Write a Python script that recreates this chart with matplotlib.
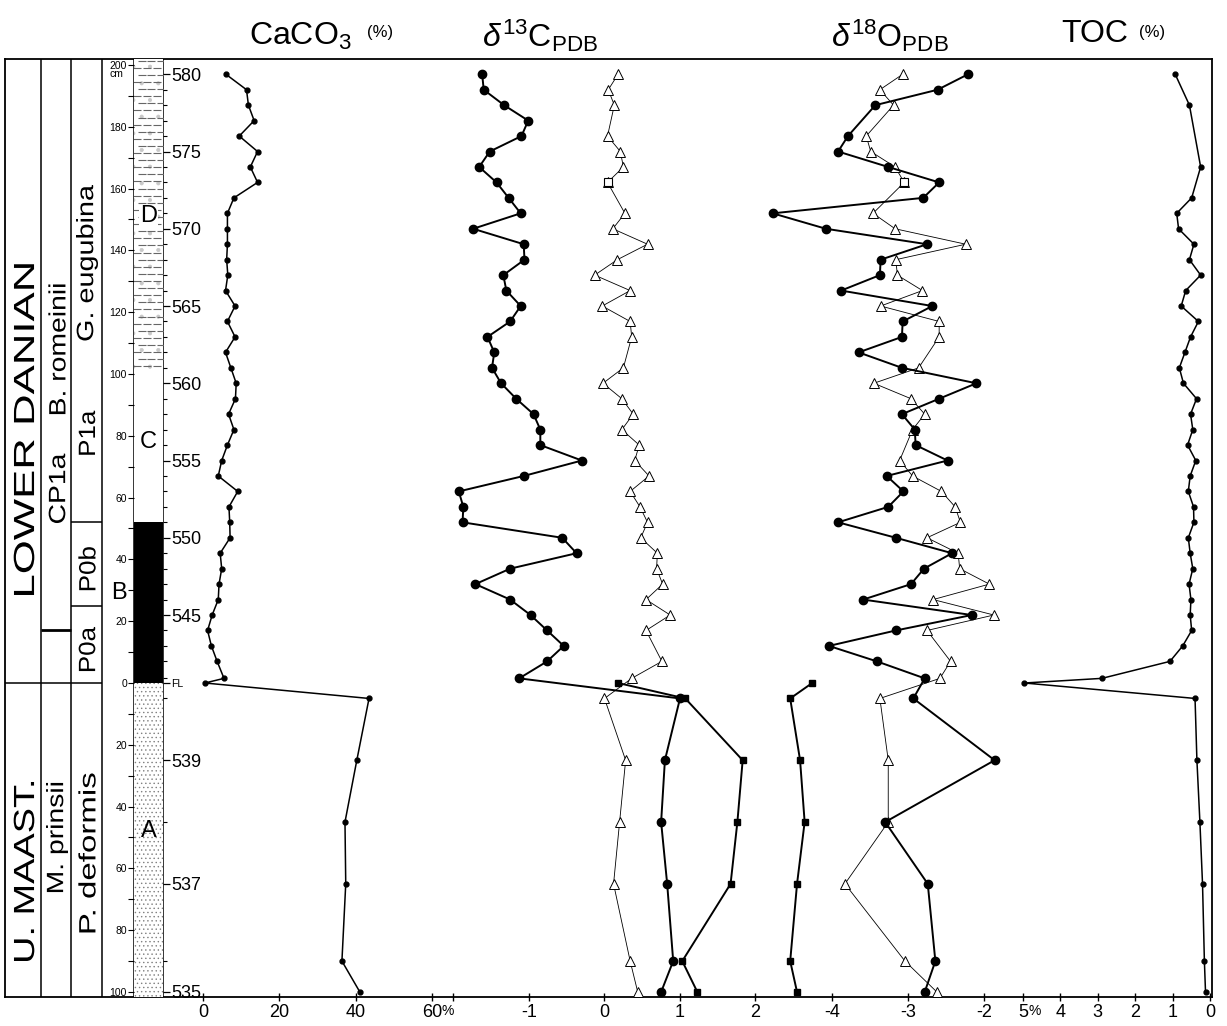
import numpy as np
import matplotlib.pyplot as plt
from matplotlib.patches import Rectangle, PathPatch
from matplotlib.textpath import TextPath
from matplotlib.font_manager import FontProperties
from matplotlib.transforms import Affine2D, blended_transform_factory

plt.rcParams['font.family'] = ['Liberation Sans', 'DejaVu Sans']
plt.rcParams['mathtext.fontset'] = 'custom'
plt.rcParams['mathtext.rm'] = 'Liberation Sans'
plt.rcParams['mathtext.it'] = 'Liberation Sans:italic'
plt.rcParams['axes.unicode_minus'] = False
plt.rcParams['hatch.linewidth'] = 0.5

nan = np.nan

# sample heights above the base of the fish clay (cm), FL = 0
h_up = [197, 192, 187, 182, 177, 172, 167, 162, 157, 152, 147, 142, 137, 132,
        127, 122, 117, 112, 107, 102, 97, 92, 87, 82, 77, 72, 67, 62, 57, 52,
        47, 42, 37, 32, 27, 22, 17, 12, 7, 1.5, 0]
h_low = [-5, -25, -45, -65, -90, -100]
h_sq = [0, -5, -25, -45, -65, -90, -100]

caco3_up = [6.0, 11.4, 11.9, 13.4, 9.5, 14.3, 12.4, 14.3, 8.1, 6.4, 6.4, 6.4,
            6.2, 6.5, 5.9, 8.4, 6.4, 8.4, 5.9, 7.3, 8.7, 8.5, 6.7, 8.1, 6.4,
            4.9, 4.0, 9.1, 6.8, 7.0, 7.1, 4.5, 4.9, 4.2, 4.0, 2.4, 1.2, 2.2,
            3.7, 5.5, 0.5]
caco3_low = [43.5, 40.3, 37.2, 37.4, 36.4, 41.1]

d13c_bulk_up = [-1.62, -1.60, -1.33, -1.01, -1.10, -1.52, -1.66, -1.43, -1.27,
                -1.11, -1.74, -1.07, -1.06, -1.34, -1.30, -1.11, -1.25, -1.55,
                -1.46, -1.49, -1.37, -1.17, -0.94, -0.85, -0.85, -0.30, -1.07,
                -1.93, -1.87, -1.88, -0.56, -0.37, -1.25, -1.71, -1.25, -0.98,
                -0.76, -0.54, -0.76, -1.13, nan]
d13c_bulk_low = [1.00, 0.80, 0.75, 0.83, 0.91, 0.75]
d13c_tri_up = [0.18, 0.05, 0.13, nan, 0.04, 0.21, 0.25, 0.04, nan, 0.27, 0.11,
               0.57, 0.17, -0.13, 0.34, -0.03, 0.34, 0.36, nan, 0.25, -0.02,
               0.23, 0.38, 0.23, 0.46, 0.40, 0.59, 0.34, 0.47, 0.57, 0.48,
               0.70, 0.69, 0.77, 0.55, 0.87, 0.55, nan, 0.76, 0.36, nan]
d13c_tri_low = [0.0, 0.28, 0.20, 0.12, 0.34, 0.44]
d13c_sq = [0.18, 1.07, 1.83, 1.76, 1.67, 1.03, 1.23]

d18o_bulk_up = [-2.21, -2.61, -3.43, nan, -3.79, -3.92, -3.26, -2.59, -2.80,
                -4.78, -4.08, -2.75, -3.36, -3.37, -3.88, -2.68, -3.07, -3.08,
                -3.65, -3.08, -2.10, -2.59, -3.08, -2.91, -2.90, -2.48, -3.28,
                -3.06, -3.26, -3.92, -3.16, -2.42, -2.79, -2.96, -3.59, -2.16,
                -3.16, -4.04, -3.41, -2.78, nan]
d18o_bulk_low = [-2.93, -1.86, -3.30, -2.74, -2.64, -2.78]
d18o_tri_up = [-3.07, -3.37, -3.19, nan, -3.55, -3.49, -3.17, -3.05, nan,
               -3.46, -3.17, -2.24, -3.16, -3.14, -2.81, -3.36, -2.59, -2.59,
               nan, -2.86, -3.45, -2.96, -2.78, -2.94, nan, -3.11, -2.94,
               -2.56, -2.38, -2.31, -2.75, -2.34, -2.32, -1.93, -2.67, -1.87,
               -2.75, nan, -2.44, -2.58, nan]
d18o_tri_low = [-3.37, -3.26, -3.26, -3.83, -3.04, -2.62]
d18o_sq = [-4.26, -4.55, -4.42, -4.36, -4.46, -4.55, -4.46]

# sample where the open symbol is a square instead of a triangle
open_sq = [7]

toc_up = [0.93, nan, 0.55, nan, nan, nan, 0.25, nan, 0.49, 0.89, 0.84, 0.43,
          0.55, 0.25, 0.65, 0.77, 0.31, 0.52, 0.67, 0.82, 0.71, 0.36, 0.52,
          0.46, 0.60, 0.38, 0.53, 0.58, 0.44, 0.43, 0.58, 0.53, 0.46, 0.56,
          0.51, 0.53, 0.49, 0.73, 1.07, 2.89, 4.96]
toc_low = [0.40, 0.35, 0.27, 0.20, 0.15, 0.12]

sample_h = [197, 172, 147, 122, 97, 72, 47, 22, 0, -25, -65, -100]
sample_lab = ['580', '575', '570', '565', '560', '555', '550', '545', 'FL',
              '539', '537', '535']

# lithological units
unit_lab = ['A', 'B', 'C', 'D']
unit_bot = [-102, 0, 52, 101]
unit_top = [0, 52, 101, 202]

# figure geometry (pixels)
W, H = 1227, 1026
X0, X1 = 5, 1212
Y_TOP, Y_BOT = 59, 997
FL_PX, PX_CM = 683, 3.09
ylo = (FL_PX - Y_BOT) / PX_CM
yhi = (FL_PX - Y_TOP) / PX_CM

fig = plt.figure(figsize=(W / 100, H / 100), dpi=100)
rect = [X0 / W, 1 - Y_BOT / H, (X1 - X0) / W, (Y_BOT - Y_TOP) / H]

base = fig.add_axes(rect)
base.set_xlim(X0, X1)
base.set_ylim(ylo, yhi)
base.set_xticks([])
base.set_yticks([])
for s in base.spines.values():
    s.set_linewidth(1.3)

# stratigraphic columns
base.vlines([41, 71, 102, 134, 163], ylo, yhi, color='k', lw=1.1)
base.hlines(0, X0, 102, color='k', lw=1.1)
base.hlines(17, 41, 71, color='k', lw=2.0)
base.hlines([52, 25], 71, 102, color='k', lw=1.1)


def vtext(ax, x, y, s, size, stretch=1.0):
    # vertical lettering, drawn as a path so it can be lengthened
    tp = TextPath((0, 0), s, size=size,
                  prop=FontProperties(family='Liberation Sans'))
    bb = tp.get_extents()
    k = fig.dpi / 72
    px, py = ax.transData.transform((x, y))
    tr = (Affine2D().translate(-(bb.x0 + bb.x1) / 2, -(bb.y0 + bb.y1) / 2)
          .scale(k * stretch, k).rotate_deg(90).translate(px, py))
    ax.add_patch(PathPatch(tp, transform=tr, facecolor='black', lw=0,
                           clip_on=False))


vtext(base, 24, 82, 'LOWER DANIAN', 21, 1.5)
vtext(base, 24, -61, 'U. MAAST.', 21, 1.3)
vtext(base, 57, 108, 'B. romeinii', 17, 1.2)
vtext(base, 57, 63, 'CP1a', 17, 1.2)
vtext(base, 57, -50, 'M. prinsii', 17, 1.2)
vtext(base, 87, 136, 'G. eugubina', 17, 1.22)
vtext(base, 87, 81, 'P1a', 17, 1.1)
vtext(base, 87, 37, 'P0b', 17, 1.1)
vtext(base, 87, 11, 'P0a', 17, 1.1)
vtext(base, 87, -55, 'P. deformis', 17, 1.4)

# lithology column
lith = fig.add_axes([134 / W, rect[1], 29 / W, rect[3]])
lith.set_xlim(0, 1)
lith.set_ylim(ylo, yhi)
lith.patch.set_visible(False)
for s in lith.spines.values():
    s.set_visible(False)
lith.set_xticks([])
fills = {'A': dict(facecolor='white', edgecolor='#808080', hatch='....'),
         'B': dict(facecolor='black', edgecolor='black'),
         'C': dict(facecolor='white', edgecolor='white'),
         'D': dict(facecolor='white', edgecolor='#c8c8c8', hatch='.')}
for lab, lo, hi in zip(unit_lab, unit_bot, unit_top):
    lith.add_patch(Rectangle((0, lo), 1, hi - lo, lw=0, **fills[lab]))
# dashes of the marly unit D
dy = np.arange(unit_bot[3] + 1.5, unit_top[3], 2.3)
for i, yy in enumerate(dy):
    xs = np.array([0.12, 0.45, 0.78]) + (0.14 if i % 2 else 0)
    lith.plot(xs, np.full(3, yy), ls='none', marker='_', ms=6, mew=0.8,
              color='#666666')
lith.text(0.5, -48, 'A', fontsize=17, ha='center', va='center')
lith.text(0.5, 78, 'C', fontsize=17, ha='center', va='center')
lith.text(0.5, 151, 'D', fontsize=17, ha='center', va='center',
          bbox=dict(facecolor='white', edgecolor='none', pad=0.5))
base.text(119, 29, 'B', fontsize=17, ha='center', va='center')

# cm scale on the left of the column
cm_ticks = np.arange(-100, 201, 10)
lith.set_yticks(cm_ticks)
lith.set_yticklabels([str(abs(t)) if t % 20 == 0 else '' for t in cm_ticks])
lith.tick_params(axis='y', direction='out', length=4, width=0.8,
                 labelsize=7.5, pad=1)
lith.text(-0.62, 197, 'cm', fontsize=7.5, ha='center', va='center')

# sample numbers on the right of the column
samp = lith.twinx()
samp.set_ylim(ylo, yhi)
for s in samp.spines.values():
    s.set_visible(False)
samp.set_yticks(sample_h)
samp.set_yticklabels(sample_lab)
samp.set_yticks(h_up + h_low, minor=True)
samp.tick_params(axis='y', which='major', direction='out', length=5,
                 width=0.9, labelsize=13, pad=1)
samp.tick_params(axis='y', which='minor', direction='out', length=3, width=0.8)
for t in samp.get_yticklabels():
    if t.get_text() == 'FL':
        t.set_fontsize(7.5)


def panel(v0, p0, v1, p1, ticks, labels, pct=None):
    ax = fig.add_axes(rect)
    ax.patch.set_visible(False)
    for s in ax.spines.values():
        s.set_visible(False)
    k = (p1 - p0) / (v1 - v0)
    ax.set_xlim(v0 - (p0 - X0) / k, v0 + (X1 - p0) / k)
    ax.set_ylim(ylo, yhi)
    ax.set_yticks([])
    ax.set_xticks(ticks)
    ax.set_xticklabels(labels)
    ax.tick_params(axis='x', direction='inout', length=6, width=1.0,
                   labelsize=13, pad=2)
    if pct is not None:
        tr = blended_transform_factory(ax.transData, ax.transAxes)
        ax.text(pct, -0.007, '%', transform=tr, fontsize=10, va='top',
                ha='left')
    return ax


def series(ax, x, h, **kw):
    x = np.asarray(x, float)
    h = np.asarray(h, float)
    m = np.isfinite(x)
    ax.plot(x[m], h[m], color='black', clip_on=False, **kw)


ax_c = panel(0, 203, 60, 432, [0, 20, 40, 60], ['0', '20', '40', '60'],
             pct=62.5)
ax_13 = panel(-1, 529, 1, 680, [-2, -1, 0, 1, 2], ['', '-1', '0', '1', '2'])
ax_18 = panel(-4, 832, -3, 908, [-4, -3, -2], ['-4', '-3', '-2'])
ax_t = panel(5, 1023, 0, 1210, [5, 4, 3, 2, 1, 0],
             ['5', '4', '3', '2', '1', '0'], pct=4.84)

small = dict(marker='o', ms=3.5, lw=1.1)
bulk = dict(marker='o', ms=6, lw=1.4)
tri = dict(marker='^', ms=7, lw=0.6, mfc='white', mew=0.7)
sq = dict(marker='s', ms=5, lw=1.4)

series(ax_c, caco3_up + caco3_low, h_up + h_low, **small)

series(ax_13, d13c_tri_up + d13c_tri_low, h_up + h_low, **tri)
series(ax_13, d13c_bulk_up + d13c_bulk_low, h_up + h_low, **bulk)
series(ax_13, d13c_sq, h_sq, **sq)
series(ax_13, [d13c_tri_up[i] for i in open_sq], [h_up[i] for i in open_sq],
       ls='none', marker='s', ms=6, mfc='white', mew=0.8)

series(ax_18, d18o_tri_up + d18o_tri_low, h_up + h_low, **tri)
series(ax_18, d18o_bulk_up + d18o_bulk_low, h_up + h_low, **bulk)
series(ax_18, d18o_sq, h_sq, **sq)
series(ax_18, [d18o_tri_up[i] for i in open_sq], [h_up[i] for i in open_sq],
       ls='none', marker='s', ms=6, mfc='white', mew=0.8)

series(ax_t, toc_up + toc_low, h_up + h_low, **small)


def ftext(x, y, s, **kw):
    fig.text(x / W, 1 - y / H, s, **kw)


ftext(300, 36, r'CaCO$_3$', fontsize=23, ha='center', va='center')
ftext(380, 33, '(%)', fontsize=12, ha='center', va='center')
ftext(540, 36, r'$\delta^{13}$C$_{\mathrm{PDB}}$', fontsize=23, ha='center',
      va='center')
ftext(890, 36, r'$\delta^{18}$O$_{\mathrm{PDB}}$', fontsize=23, ha='center',
      va='center')
ftext(1095, 34, 'TOC', fontsize=23, ha='center', va='center')
ftext(1152, 33, '(%)', fontsize=12, ha='center', va='center')

fig.savefig('out.png', dpi=100)
